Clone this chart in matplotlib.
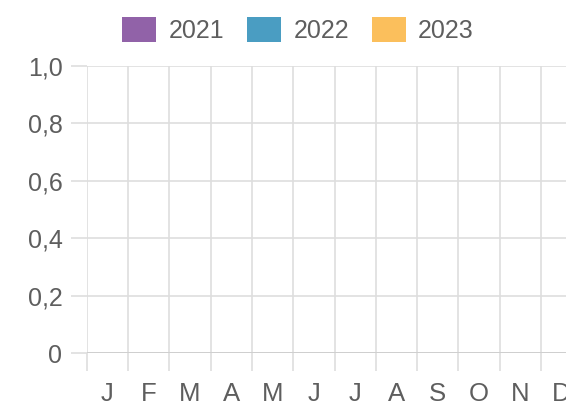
import numpy as np
import matplotlib.pyplot as plt

plt.rcParams['font.family'] = ['Liberation Sans', 'DejaVu Sans']

months = ['J', 'F', 'M', 'A', 'M', 'J', 'J', 'A', 'S', 'O', 'N', 'D']
years = ['2021', '2022', '2023']
# the chart shows no bars, every month is empty
values_2021 = [0, 0, 0, 0, 0, 0, 0, 0, 0, 0, 0, 0]
values_2022 = [0, 0, 0, 0, 0, 0, 0, 0, 0, 0, 0, 0]
values_2023 = [0, 0, 0, 0, 0, 0, 0, 0, 0, 0, 0, 0]
yticks = [0, 0.2, 0.4, 0.6, 0.8, 1.0]
ytick_labels = ['0', '0,2', '0,4', '0,6', '0,8', '1,0']

colors = ['#9162a8', '#4a9dc2', '#fbbf5c']
grid = '#dedede'
text = '#5e5e5e'

fig = plt.figure(figsize=(5.66, 4.05), dpi=100)
# plot area runs past the right edge, like the cropped original
ax = fig.add_axes([0.1532, 0.1277, 0.8756, 0.710])

x = np.arange(len(months)) + 0.5
w = 0.27
bars = []
for i, (vals, c) in enumerate(zip([values_2021, values_2022, values_2023], colors)):
    b = ax.bar(x + (i - 1) * w, vals, width=w, color=c, linewidth=0, label=years[i])
    bars.append(b)

ax.set_xlim(0, 12)
ax.set_ylim(0, 1)
for s in ax.spines.values():
    s.set_visible(False)

ax.set_xticks(range(13))
ax.set_xticklabels([])
ax.set_xticks(x, minor=True)
ax.set_xticklabels(months, minor=True)
ax.tick_params(axis='x', which='major', length=13, width=1.2, color=grid)
ax.tick_params(axis='x', which='minor', length=0, pad=21, labelsize=18.5, labelcolor=text)

ax.set_yticks(yticks)
ax.set_yticklabels(ytick_labels)
ax.tick_params(axis='y', length=11.5, width=1.2, color=grid, pad=6, labelsize=18, labelcolor=text)

ax.grid(True, which='major', color=grid, linewidth=1.2)
ax.set_axisbelow(True)
ax.axhline(0, color='#cfcfcf', linewidth=1.4, zorder=1)

fig.legend(handles=bars, labels=years, loc='center', bbox_to_anchor=(298 / 566, 1 - 30 / 405),
           ncol=3, frameon=False, fontsize=18, labelcolor=text,
           handlelength=1.36, handleheight=1.15, handletextpad=0.5, columnspacing=0.9)

fig.savefig('out.png', dpi=100)
